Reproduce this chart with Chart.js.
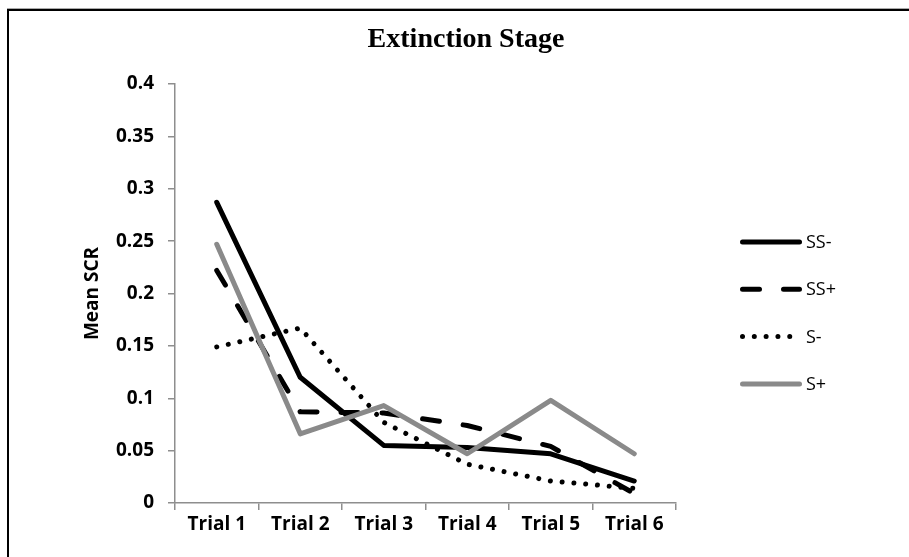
<!DOCTYPE html>
<html>
<head>
<meta charset="utf-8">
<title>Extinction Stage</title>
<script src="https://cdn.jsdelivr.net/npm/chart.js@4/dist/chart.umd.min.js"></script>
<style>
    html, body { margin: 0; padding: 0; background: #fff; overflow: hidden; }
    #wrap { position: relative; width: 909px; height: 557px; overflow: hidden; }
    #frame {
        position: absolute; left: 7px; top: 9px; width: 960px; height: 620px;
        border-top: 2px solid #000; border-left: 2px solid #000;
        box-shadow: 0 -1px 0 #aaa;
    }
    canvas { position: absolute; left: 0; top: 0; }
</style>
</head>
<body>
<div id="wrap">
    <div id="frame"></div>
    <canvas id="chart" width="909" height="557"></canvas>
</div>
<script>
// Values
const trials = ['Trial 1', 'Trial 2', 'Trial 3', 'Trial 4', 'Trial 5', 'Trial 6'];
const ssMinus = [0.287, 0.120, 0.055, 0.053, 0.047, 0.021];
const ssPlus = [0.222, 0.087, 0.086, 0.074, 0.054, 0.009];
const sMinus = [0.149, 0.167, 0.077, 0.037, 0.021, 0.014];
const sPlus = [0.247, 0.066, 0.093, 0.047, 0.098, 0.047];
const seriesNames = ['SS-', 'SS+', 'S-', 'S+'];
const chartTitle = 'Extinction Stage';

const AXIS_GRAY = '#8e8e8e';
const tickFont = { family: "'Open Sans', sans-serif", size: 19, weight: 'bold' };

function lineSet(label, data, color, dash, order) {
    return {
        label: label,
        data: data,
        borderColor: color,
        backgroundColor: color,
        borderWidth: 5,
        borderDash: dash,
        borderCapStyle: 'round',
        borderJoinStyle: 'round',
        pointRadius: 0,
        tension: 0,
        fill: false,
        order: order
    };
}

// Title sits over the whole frame (not just the plot), and an Excel-style
// legend on the right is drawn from the dataset styles
const frameDecor = {
    id: 'frameDecor',
    afterDraw(chart) {
        const ctx = chart.ctx;
        ctx.save();
        ctx.fillStyle = '#000';
        ctx.textAlign = 'center';
        ctx.textBaseline = 'alphabetic';
        ctx.font = "bold 28px 'Liberation Serif', 'Times New Roman', serif";
        ctx.fillText(chartTitle, 466, 47);

        ctx.textAlign = 'left';
        ctx.textBaseline = 'middle';
        ctx.font = "18px 'Open Sans', sans-serif";
        chart.data.datasets.forEach((ds, i) => {
            const y = 242 + i * 47.3;
            ctx.beginPath();
            ctx.strokeStyle = ds.borderColor;
            ctx.lineWidth = ds.borderWidth;
            ctx.lineCap = 'round';
            ctx.setLineDash(ds.borderDash || []);
            ctx.moveTo(742.5, y);
            ctx.lineTo(799.5, y);
            ctx.stroke();
            ctx.setLineDash([]);
            ctx.fillText(ds.label, 806, y + 1);
        });
        ctx.restore();
    }
};

new Chart(document.getElementById('chart'), {
    type: 'line',
    data: {
        labels: trials,
        datasets: [
            lineSet(seriesNames[0], ssMinus, '#000000', [], 3),
            lineSet(seriesNames[1], ssPlus, '#000000', [17, 24], 2),
            lineSet(seriesNames[2], sMinus, '#000000', [0.01, 11.8], 1),
            lineSet(seriesNames[3], sPlus, '#8a8a8a', [], 0)
        ]
    },
    options: {
        responsive: false,
        animation: false,
        layout: { padding: { left: 23, right: 233, top: 84, bottom: 0 } },
        plugins: {
            legend: { display: false },
            tooltip: { enabled: false },
            title: { display: false }
        },
        scales: {
            x: {
                offset: true,
                grid: {
                    offset: true,
                    drawOnChartArea: false,
                    tickLength: 7,
                    color: AXIS_GRAY,
                    lineWidth: 1.5
                },
                border: { color: AXIS_GRAY, width: 1.5 },
                ticks: { color: '#000', font: tickFont, padding: 3, maxRotation: 0 },
                afterFit: s => { s.height = 54; }
            },
            y: {
                min: 0,
                max: 0.4,
                ticks: {
                    stepSize: 0.05,
                    color: '#000',
                    font: tickFont,
                    padding: 14,
                    callback: v => String(+v.toFixed(2))
                },
                grid: {
                    drawOnChartArea: false,
                    tickLength: 7,
                    color: AXIS_GRAY,
                    lineWidth: 1.5
                },
                border: { color: AXIS_GRAY, width: 1.5 },
                title: {
                    display: true,
                    text: 'Mean SCR',
                    color: '#000',
                    font: tickFont,
                    padding: { top: 58.6, bottom: 0 }
                },
                afterFit: s => { s.width = 152; }
            }
        }
    },
    plugins: [frameDecor]
});
</script>
</body>
</html>
